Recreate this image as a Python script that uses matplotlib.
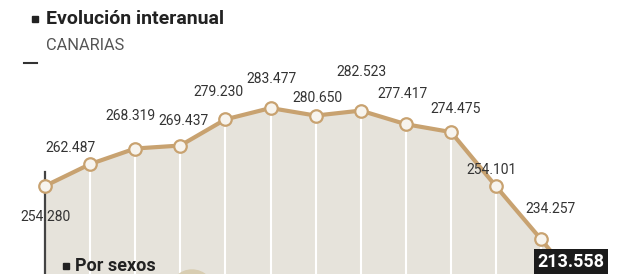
import matplotlib
matplotlib.use("Agg")
from matplotlib import pyplot as plt
from matplotlib.patches import Rectangle, Circle
from matplotlib.lines import Line2D
from matplotlib.transforms import IdentityTransform

# Datos: evolución interanual, Canarias
values = [254280, 262487, 268319, 269437, 279230, 283477, 280650,
          282523, 277417, 274475, 254101, 234257, 213558]
labels = [f"{v:,}".replace(",", ".") for v in values]
# desplazamiento de cada etiqueta respecto a su punto (px)
label_dx = [0, -20, -5, 3, -7, 1, 2, 1, -3, 5, -5, 9, -15]
label_dy = [-31, 16, 33, 25, 27, 29, 18, 39, 30, 23, 16, 30, 33]

W, H = 640, 274
line_c = '#c8a270'
fill_c = '#e6e3db'
text_c = '#333333'

fig = plt.figure(figsize=(W / 100, H / 100), dpi=100)
ax = fig.add_axes([0, 0, 1, 1])
x = list(range(len(values)))

ymin, ymax = 221320, 323940
ax.set_xlim(-0.998, 13.19)
ax.set_ylim(ymin, ymax)
ax.axis('off')

# Área sombreada y líneas verticales blancas
ax.fill_between(x, values, ymin, color=fill_c, lw=0, zorder=1)
ax.vlines(x[1:], ymin, values[1:], color='white', lw=1.5, zorder=2)
ax.axvline(0, ymax=0.372, color='#444444', lw=1.6, zorder=2)

# Línea con marcadores
ax.plot(x, values, color=line_c, lw=3, zorder=3, solid_capstyle='round')
ax.plot(x, values, 'o', ms=9, mfc='#f7f4ee', mec=line_c, mew=1.6, zorder=4)

# Etiquetas de valor
for i, (v, lab) in enumerate(zip(values, labels)):
    if i == len(values) - 1:
        ax.annotate(lab, (i, v), xytext=(label_dx[i], label_dy[i]),
                    textcoords='offset pixels', ha='center', va='center',
                    fontsize=13, fontweight='bold', family='Roboto',
                    color='white', annotation_clip=False, zorder=6,
                    bbox=dict(boxstyle='square,pad=0.2', fc='#1b1b1b', ec='none'))
    else:
        ax.annotate(lab, (i, v), xytext=(label_dx[i], label_dy[i]),
                    textcoords='offset pixels', ha='center', va='center',
                    fontsize=10, family='Roboto', color=text_c, zorder=5)

# Cabecera
fig.add_artist(Rectangle((32 / W, 1 - 22 / H), 6 / W, 6 / H,
                         transform=fig.transFigure, color='#222222'))
fig.text(46 / W, 1 - 19 / H, 'Evolución interanual', fontsize=14,
         fontweight='bold', family='Roboto', color='#222222', va='center')
fig.text(46 / W, 1 - 45 / H, 'CANARIAS', fontsize=11.8, family='Roboto',
         color='#555555', va='center')
fig.add_artist(Line2D([24 / W, 37 / W], [1 - 62.5 / H, 1 - 62.5 / H],
                      transform=fig.transFigure, color='#333333', lw=1.5))

# Subtítulo inferior
fig.add_artist(Rectangle((63 / W, 1 - 269 / H), 6 / W, 6 / H,
                         transform=fig.transFigure, color='#222222', zorder=6))
fig.text(75 / W, 1 - 266 / H, 'Por sexos', fontsize=13, fontweight='bold',
         family='Roboto', color='#222222', va='center', zorder=6)
fig.add_artist(Circle((192, -18), 22, transform=IdentityTransform(),
                      color='#d8cdb1', zorder=5))

fig.savefig('out.png', dpi=100)
